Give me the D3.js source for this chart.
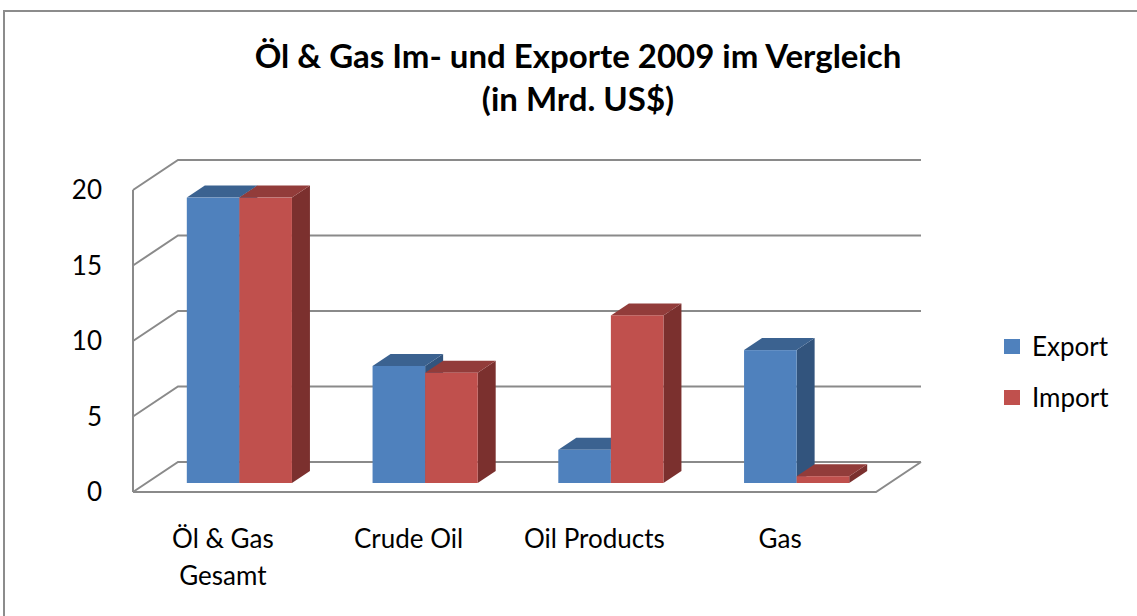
<!DOCTYPE html>
<html><head><meta charset="utf-8">
<script src="https://cdn.jsdelivr.net/npm/d3@7"></script>
<style>html,body{margin:0;padding:0;background:#fff;overflow:hidden}text{font-family:Lato,"Open Sans",sans-serif;fill:#000}</style>
</head><body>
<svg id="c" width="1137" height="616"></svg>
<script>
const categories = [["Öl & Gas","Gesamt"],["Crude Oil"],["Oil Products"],["Gas"]];
const seriesNames = ["Export","Import"];
const exportValues = [18.9, 7.75, 2.2, 8.8];
const importValues = [18.9, 7.3, 11.1, 0.45];
const yTicks = [0,5,10,15,20];
const titleLines = ["Öl & Gas Im- und Exporte 2009 im Vergleich","(in Mrd. US$)"];

const colors = {
  Export:{front:"#4F81BD", top:"#3B6290", side:"#32547D"},
  Import:{front:"#C0504D", top:"#923C3A", side:"#7B302E"}
};

const svg = d3.select("#c");
// chart border
svg.append("rect").attr("x",4).attr("y",11).attr("width",1200).attr("height",700)
  .attr("fill","none").attr("stroke","#8c8c8c").attr("stroke-width",2);

const DX = 45, DY = -30;
const y = d3.scaleLinear().domain([0,20]).range([492,190]);
const catKeys = categories.map((c,i)=>i);
const x = d3.scaleBand().domain(catKeys).range([133,876]).paddingInner(0).paddingOuter(0);
const groupW = x.bandwidth()*0.566;
const xs = d3.scaleBand().domain(seriesNames).range([0,groupW]);
const P = (px, v, d) => [px + d*DX, y(v) + d*DY];

const grid = svg.append("g").attr("stroke","#8a8a8a").attr("stroke-width",2).attr("fill","none");
yTicks.forEach(t=>{
  const f = P(133,t,0), b = P(133,t,1), r = P(876,t,1);
  grid.append("path").attr("d", d3.line()([f,b,r]));
});
grid.append("path").attr("d", d3.line()([P(133,0,0),P(133,20,0)]));
grid.append("path").attr("d", d3.line()([P(133,0,0),P(876,0,0),P(876,0,1)]));

svg.append("g").selectAll("text").data(yTicks).join("text")
  .attr("x",102).attr("y",d=>y(d)+9).attr("text-anchor","end")
  .attr("font-size",26).text(d=>d);

const d0 = 0.3, d1 = 0.7;
const bars = [];
catKeys.forEach(i=>{
  seriesNames.forEach(s=>{
    const v = (s==="Export"?exportValues:importValues)[i];
    bars.push({i,s,v});
  });
});
const bg = svg.append("g");
bars.forEach(b=>{
  const x0 = x(b.i) + (x.bandwidth()-groupW)/2 + xs(b.s);
  const x1 = x0 + xs.bandwidth();
  const c = colors[b.s];
  const g = bg.append("g");
  g.append("path").attr("fill",c.side).attr("d", d3.line()([P(x1,0,d0),P(x1,0,d1),P(x1,b.v,d1),P(x1,b.v,d0)])+"Z");
  g.append("path").attr("fill",c.top).attr("d", d3.line()([P(x0,b.v,d0),P(x0,b.v,d1),P(x1,b.v,d1),P(x1,b.v,d0)])+"Z");
  const a = P(x0,b.v,d0), z = P(x1,0,d0);
  g.append("rect").attr("fill",c.front).attr("x",a[0]).attr("y",a[1]).attr("width",z[0]-a[0]).attr("height",z[1]-a[1]);
});

const cl = svg.append("g");
categories.forEach((c,i)=>{
  const cx = x(i)+x.bandwidth()/2 - 3;
  const t = cl.append("text").attr("text-anchor","middle").attr("font-size",26);
  c.forEach((line,k)=>t.append("tspan").attr("x",cx).attr("y",548+k*37).text(line));
});

const tt = svg.append("text").attr("text-anchor","middle").attr("font-size",33).attr("font-weight","bold");
titleLines.forEach((l,k)=>tt.append("tspan").attr("x",578).attr("y",68+k*43).text(l));

const lg = svg.append("g");
seriesNames.forEach((s,k)=>{
  lg.append("rect").attr("x",1004).attr("y",339+k*51).attr("width",16).attr("height",15).attr("fill",colors[s].front);
  lg.append("text").attr("x",1032).attr("y",356+k*51).attr("font-size",26).text(s);
});
</script>
</body></html>
